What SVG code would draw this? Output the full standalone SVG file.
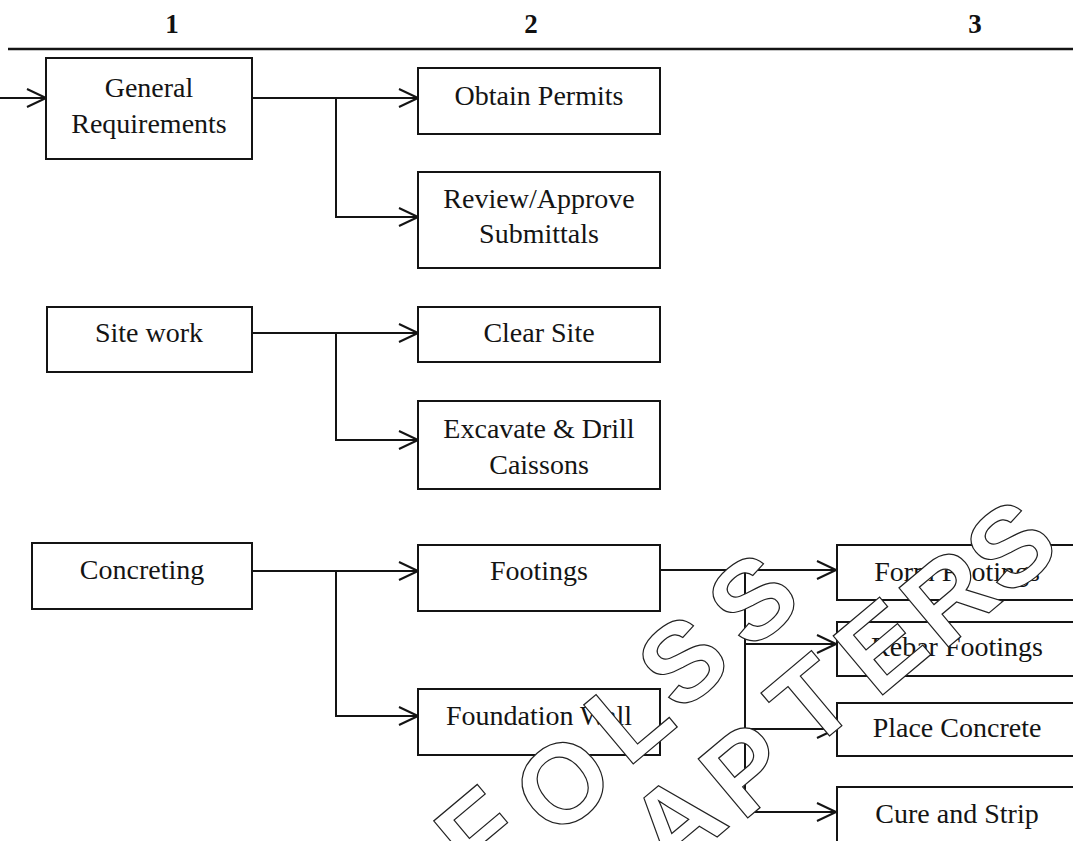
<svg xmlns="http://www.w3.org/2000/svg" width="1073" height="841" viewBox="0 0 1073 841">
  <style>
    .box { fill: #fff; stroke: #141414; stroke-width: 2; }
    .t { font-family: "Liberation Serif", "Times New Roman", serif; font-size: 28px; fill: #141414; text-anchor: middle; }
    .hd { font-family: "Liberation Serif", "Times New Roman", serif; font-size: 27px; font-weight: bold; fill: #111; text-anchor: middle; }
    .ln { fill: none; stroke: #141414; stroke-width: 2; }
    .wm { font-family: "Liberation Sans", Arial, sans-serif; font-size: 112px; font-weight: bold; fill: #fff; stroke: #222; stroke-width: 1.2; text-anchor: middle; }
  </style>
  <defs>
    <marker id="arr" markerUnits="userSpaceOnUse" markerWidth="22" markerHeight="22" viewBox="0 0 22 20" refX="20" refY="10" orient="auto">
      <path d="M1,1 L20,10 L1,19" fill="none" stroke="#141414" stroke-width="2"/>
    </marker>
  </defs>
  <rect width="1073" height="841" fill="#fff"/>

  <!-- column header -->
  <g id="header">
    <text class="hd" x="172" y="33">1</text>
    <text class="hd" x="531" y="33">2</text>
    <text class="hd" x="975" y="33">3</text>
    <line x1="8" y1="49" x2="1073" y2="49" stroke="#141414" stroke-width="2.5"/>
  </g>

  <!-- connectors -->
  <g id="connectors">
    <line class="ln" x1="0" y1="98" x2="46" y2="98" marker-end="url(#arr)"/>
    <line class="ln" x1="252" y1="98" x2="418" y2="98" marker-end="url(#arr)"/>
    <polyline class="ln" points="336,98 336,217 418,217" marker-end="url(#arr)"/>

    <line class="ln" x1="252" y1="333" x2="418" y2="333" marker-end="url(#arr)"/>
    <polyline class="ln" points="336,333 336,440 418,440" marker-end="url(#arr)"/>

    <line class="ln" x1="252" y1="571" x2="418" y2="571" marker-end="url(#arr)"/>
    <polyline class="ln" points="336,571 336,716 418,716" marker-end="url(#arr)"/>

    <line class="ln" x1="660" y1="570" x2="836" y2="570" marker-end="url(#arr)"/>
    <polyline class="ln" points="745,570 745,644 836,644" marker-end="url(#arr)"/>
    <polyline class="ln" points="745,644 745,729 836,729" marker-end="url(#arr)"/>
    <polyline class="ln" points="745,729 745,812 836,812" marker-end="url(#arr)"/>
  </g>

  <!-- column 1 -->
  <g id="general-requirements">
    <rect class="box" x="46" y="58" width="206" height="101"/>
    <text class="t" x="149" y="97">General</text>
    <text class="t" x="149" y="133">Requirements</text>
  </g>
  <g id="site-work">
    <rect class="box" x="47" y="307" width="205" height="65"/>
    <text class="t" x="149" y="342">Site work</text>
  </g>
  <g id="concreting">
    <rect class="box" x="32" y="543" width="220" height="66"/>
    <text class="t" x="142" y="579">Concreting</text>
  </g>

  <!-- column 2 -->
  <g id="obtain-permits">
    <rect class="box" x="418" y="68" width="242" height="66"/>
    <text class="t" x="539" y="105">Obtain Permits</text>
  </g>
  <g id="review-approve">
    <rect class="box" x="418" y="172" width="242" height="96"/>
    <text class="t" x="539" y="208">Review/Approve</text>
    <text class="t" x="539" y="243">Submittals</text>
  </g>
  <g id="clear-site">
    <rect class="box" x="418" y="307" width="242" height="55"/>
    <text class="t" x="539" y="342">Clear Site</text>
  </g>
  <g id="excavate">
    <rect class="box" x="418" y="401" width="242" height="88"/>
    <text class="t" x="539" y="438">Excavate &amp; Drill</text>
    <text class="t" x="539" y="474">Caissons</text>
  </g>
  <g id="footings">
    <rect class="box" x="418" y="545" width="242" height="66"/>
    <text class="t" x="539" y="580">Footings</text>
  </g>
  <g id="foundation-wall">
    <rect class="box" x="418" y="689" width="242" height="66"/>
    <text class="t" x="539" y="725">Foundation Wall</text>
  </g>

  <!-- column 3 -->
  <g id="form-footings">
    <rect class="box" x="837" y="545" width="245" height="55"/>
    <text class="t" x="957" y="581">Form Footings</text>
  </g>
  <g id="rebar-footings">
    <rect class="box" x="837" y="622" width="245" height="54"/>
    <text class="t" x="957" y="656">Rebar Footings</text>
  </g>
  <g id="place-concrete">
    <rect class="box" x="837" y="703" width="245" height="53"/>
    <text class="t" x="957" y="737">Place Concrete</text>
  </g>
  <g id="cure-strip">
    <rect class="box" x="837" y="787" width="245" height="60"/>
    <text class="t" x="957" y="823">Cure and Strip</text>
  </g>

  <!-- diagonal watermark lettering -->
  <g id="watermark">
    <text class="wm" transform="translate(478,832) rotate(-40)" y="40">F</text>
    <text class="wm" transform="translate(562,782) rotate(-40)" y="40">O</text>
    <text class="wm" transform="translate(628,716) rotate(-40)" y="40">L</text>
    <text class="wm" transform="translate(682,660) rotate(-40)" y="40">S</text>
    <text class="wm" transform="translate(752,598) rotate(-40)" y="40">S</text>
    <text class="wm" transform="translate(675,820) rotate(-40)" y="40">A</text>
    <text class="wm" transform="translate(745,768) rotate(-40)" y="40">P</text>
    <text class="wm" transform="translate(810,700) rotate(-40)" y="40">T</text>
    <text class="wm" transform="translate(880,645) rotate(-40)" y="40">E</text>
    <text class="wm" transform="translate(948,595) rotate(-40)" y="40">R</text>
    <text class="wm" transform="translate(1010,545) rotate(-40)" y="40">S</text>
  </g>
</svg>
